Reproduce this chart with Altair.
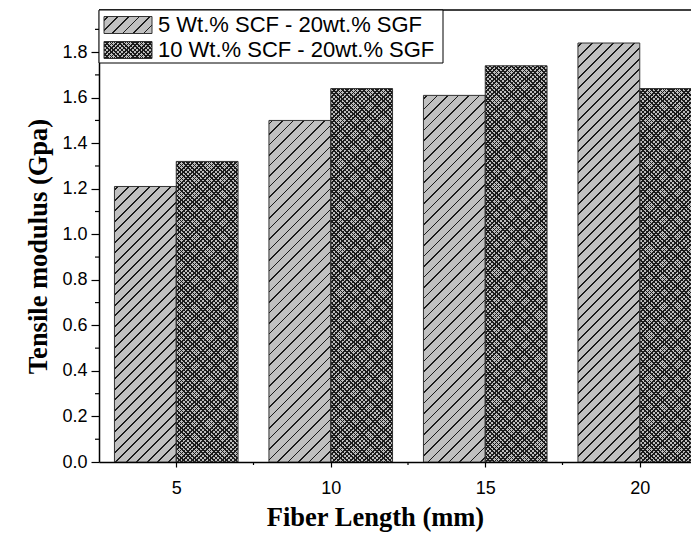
import altair as alt

# ---- data ----
lengths = [5, 10, 15, 20]
series_names = ["5 Wt.% SCF - 20wt.% SGF", "10 Wt.% SCF - 20wt.% SGF"]
scf5 = [1.21, 1.50, 1.61, 1.84]
scf10 = [1.32, 1.64, 1.74, 1.64]
y_ticks = [0.0, 0.2, 0.4, 0.6, 0.8, 1.0, 1.2, 1.4, 1.6, 1.8]
y_minor = [0.1, 0.3, 0.5, 0.7, 0.9, 1.1, 1.3, 1.5, 1.7, 1.9]
x_ticks = [5, 10, 15, 20]
x_minor = [7.5, 12.5, 17.5]

# ---- layout ----
PX_PER_UNIT = 30.9
W, H = 592, 452
X_DOM = [2.5, 2.5 + W / PX_PER_UNIT]
Y_DOM = [0, 1.985]
BAR_UNITS = 2


def px_w(units):
    return units * W / (X_DOM[1] - X_DOM[0])


def px_h(v):
    return v * H / (Y_DOM[1] - Y_DOM[0])


def stripes(w, h, period, thick, base, line, direction, phase=0.0):
    L = w + h
    a = L / (w * w + h * h)
    if direction == "/":
        x1, y1, x2, y2 = 0, 0, a * w, a * h
    else:
        x1, y1, x2, y2 = 0, 1, a * w, 1 - a * h
    stops = [{"offset": 0, "color": base}]
    c = phase
    while c < L:
        p0 = round(max(0.0, c / L), 5)
        p1 = round(min(1.0, (c + thick) / L), 5)
        stops += [
            {"offset": p0, "color": base},
            {"offset": p0, "color": line},
            {"offset": p1, "color": line},
            {"offset": p1, "color": base},
        ]
        c += period
    stops.append({"offset": 1, "color": base})
    return {"gradient": "linear", "x1": x1, "y1": y1, "x2": x2, "y2": y2, "stops": stops}


CLEAR = "rgba(0,0,0,0)"
HATCH_BASE = "#c0c0c0"
CROSS_BASE = "#bcbcbc"
INK = "#1a1a1a"


def fills(j, w, h):
    if j == 0:
        return stripes(w, h, 10.5, 1.6, HATCH_BASE, INK, "/", 3), CLEAR
    return (stripes(w, h, 4.3, 1.6, CROSS_BASE, INK, "/"),
            stripes(w, h, 4.3, 1.6, CLEAR, INK, "\\"))


records = []
for j, vals in enumerate([scf5, scf10]):
    for L, v in zip(lengths, vals):
        x0 = L - BAR_UNITS if j == 0 else L
        g1, g2 = fills(j, px_w(BAR_UNITS), px_h(v))
        records.append({"series": series_names[j], "x0": x0, "x1": x0 + BAR_UNITS,
                        "v": v, "g1": g1, "g2": g2})

bar_data = alt.Data(values=records)

xs = alt.Scale(domain=X_DOM, nice=False, zero=False)
ys = alt.Scale(domain=Y_DOM, nice=False)

axis_common = dict(
    domainColor="black", domainWidth=1.5, tickColor="black", tickWidth=1.2,
    labelColor="black", labelFont="Liberation Sans", labelFontSize=18,
    titleFont="Liberation Serif", titleFontWeight="bold", titleFontSize=26.5,
    titleColor="black", grid=False,
)

xaxis = alt.Axis(values=x_ticks, format="d", tickSize=5, labelPadding=12,
                 title="Fiber Length (mm)", titleX=276, titleY=63,
                 titleBaseline="alphabetic", **axis_common)
yaxis = alt.Axis(values=y_ticks, format=".1f", tickSize=8, labelPadding=4,
                 title="Tensile modulus (Gpa)", titleX=-61, titleY=H / 2 + 10,
                 titleAngle=270, titleBaseline="middle", **axis_common)


def X(field):
    return alt.X(field, scale=xs, axis=xaxis)


def Y(field):
    return alt.Y(field, scale=ys, axis=yaxis)


bars_fill = alt.Chart(bar_data).mark_rect(strokeWidth=0, clip=True).encode(
    x=X("x0:Q"), x2="x1:Q", y=Y("v:Q"), y2=alt.datum(0),
    fill=alt.Fill("g1:N", scale=None),
)

bars_over = alt.Chart(bar_data).mark_rect(stroke="#333333", strokeWidth=1, clip=True).encode(
    x=X("x0:Q"), x2="x1:Q", y=Y("v:Q"), y2=alt.datum(0),
    fill=alt.Fill("g2:N", scale=None),
)

ymin_rules = alt.Chart(alt.Data(values=[{"t": t} for t in y_minor])).mark_rule(
    color="black", strokeWidth=1.2).encode(
    y=Y("t:Q"), x=alt.value(-4), x2=alt.value(0))

xmin_rules = alt.Chart(alt.Data(values=[{"t": t} for t in x_minor])).mark_rule(
    color="black", strokeWidth=1.2).encode(
    x=X("t:Q"), y=alt.value(H), y2=alt.value(H + 3))

one = alt.Data(values=[{}])
top_frame = alt.Chart(one).mark_rule(color="black", strokeWidth=1.5).encode(
    x=alt.value(0), x2=alt.value(W), y=alt.value(0))

# ---- legend ----
LEG_W, LEG_H = 344, 53
SW_X0, SW_X1, SW_H = 5, 53, 17
rows_y = [15, 40]
legend_layers = [
    alt.Chart(one).mark_rect(fill="white", stroke="black", strokeWidth=1).encode(
        x=alt.value(0), x2=alt.value(LEG_W), y=alt.value(0), y2=alt.value(LEG_H))
]
for j, name in enumerate(series_names):
    cy = rows_y[j]
    g1, g2 = fills(j, SW_X1 - SW_X0, SW_H)
    legend_layers.append(alt.Chart(one).mark_rect(strokeWidth=0).encode(
        x=alt.value(SW_X0), x2=alt.value(SW_X1),
        y=alt.value(cy - SW_H / 2), y2=alt.value(cy + SW_H / 2), fill=alt.value(g1)))
    legend_layers.append(alt.Chart(one).mark_rect(stroke="#333333", strokeWidth=1).encode(
        x=alt.value(SW_X0), x2=alt.value(SW_X1),
        y=alt.value(cy - SW_H / 2), y2=alt.value(cy + SW_H / 2), fill=alt.value(g2)))
    legend_layers.append(alt.Chart(one).mark_text(
        align="left", baseline="middle", font="Liberation Sans", fontSize=22,
        color="black").encode(x=alt.value(59), y=alt.value(cy), text=alt.value(name)))

chart = alt.layer(
    bars_fill, bars_over, ymin_rules, xmin_rules, top_frame, *legend_layers
).properties(
    width=W, height=H,
    autosize=alt.AutoSizeParams(type="none"),
    padding={"left": 91, "top": 2, "right": 0, "bottom": 70},
).configure_view(stroke=None)

chart.save("out.html", embed_options={"renderer": "svg", "actions": False})
